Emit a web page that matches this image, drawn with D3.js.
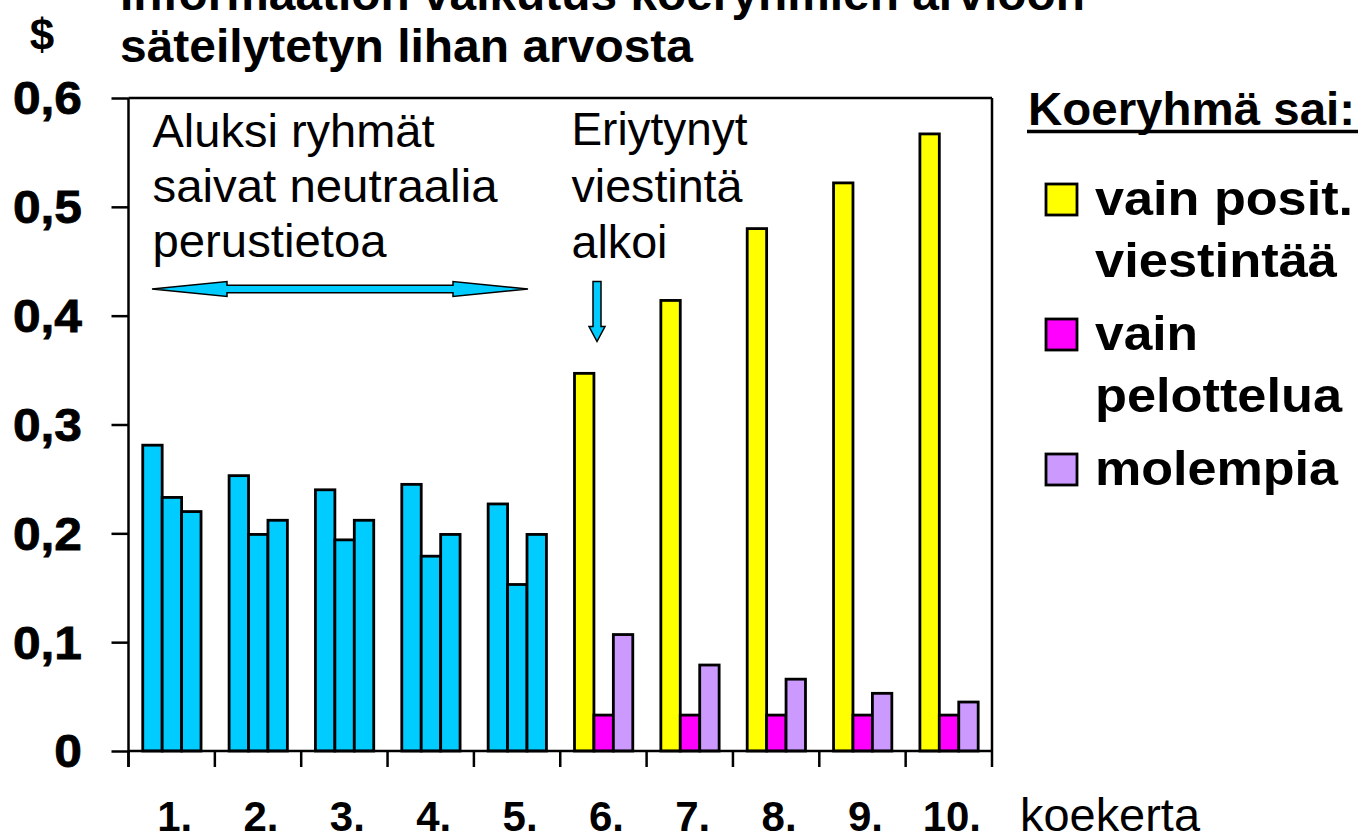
<!DOCTYPE html>
<html>
<head>
<meta charset="utf-8">
<script src="https://cdn.jsdelivr.net/npm/d3@7/dist/d3.min.js"></script>
<style>
  html, body { margin: 0; padding: 0; background: #ffffff; }
  svg { display: block; font-family: "Liberation Sans", Arial, sans-serif; }
</style>
</head>
<body>
<svg id="chart" width="1365" height="839"></svg>
<script>
// ---------- data ----------
const categories = ["1.", "2.", "3.", "4.", "5.", "6.", "7.", "8.", "9.", "10."];
const seriesNames = ["vain posit. viestintää", "vain pelottelua", "molempia"];
const positValues  = [0.281, 0.253, 0.240, 0.245, 0.227, 0.347, 0.414, 0.480, 0.522, 0.567];
const pelotValues  = [0.233, 0.199, 0.194, 0.179, 0.153, 0.033, 0.033, 0.033, 0.033, 0.033];
const molempValues = [0.220, 0.212, 0.212, 0.199, 0.199, 0.107, 0.079, 0.066, 0.053, 0.045];
const neutralRounds = 5; // first rounds: all groups got neutral info
const yTicks = [0, 0.1, 0.2, 0.3, 0.4, 0.5, 0.6];
const yTickLabels = ["0", "0,1", "0,2", "0,3", "0,4", "0,5", "0,6"];
const titleLines = ["Informaation vaikutus koeryhmien arvioon", "säteilytetyn lihan arvosta"];
const legendTitle = "Koeryhmä sai:";
const legendLines = [["vain posit.", "viestintää"], ["vain", "pelottelua"], ["molempia"]];
const note1 = ["Aluksi ryhmät", "saivat neutraalia", "perustietoa"];
const note2 = ["Eriytynyt", "viestintä", "alkoi"];

const seriesColors = ["#FFFF00", "#FF00FF", "#CC99FF"];
const neutralColor = "#00CCFF";

// ---------- layout ----------
const svg = d3.select("#chart");
const pL = 128.5, pR = 992, pT = 98, pB = 751;

const x = d3.scaleBand().domain(categories).range([pL, pR]).paddingInner(0).paddingOuter(0);
const bw = x.bandwidth();
const xs = d3.scaleBand().domain([0, 1, 2]).range([bw * 0.165, bw * 0.84]).padding(0);
const y = d3.scaleLinear().domain([0, 0.6]).range([pB, pT]);

const allSeries = [positValues, pelotValues, molempValues];

// ---------- bars ----------
const barData = [];
categories.forEach((c, i) => {
  allSeries.forEach((vals, s) => {
    barData.push({ cat: c, s: s, v: vals[i], color: i < neutralRounds ? neutralColor : seriesColors[s] });
  });
});

svg.append("g").selectAll("rect").data(barData).join("rect")
  .attr("x", d => x(d.cat) + xs(d.s))
  .attr("y", d => y(d.v))
  .attr("width", xs.bandwidth())
  .attr("height", d => y(0) - y(d.v))
  .attr("fill", d => d.color)
  .attr("stroke", "#000")
  .attr("stroke-width", 2.8);

// ---------- frame & axes ----------
const axisG = svg.append("g").attr("stroke", "#000").attr("stroke-width", 2.5).attr("fill", "none");
axisG.append("line").attr("x1", pL).attr("x2", pR).attr("y1", pT).attr("y2", pT);
axisG.append("line").attr("x1", pR).attr("x2", pR).attr("y1", pT).attr("y2", pB);

const yAxis = d3.axisLeft(y).tickValues(yTicks).tickSize(17).tickFormat("");
svg.append("g").attr("transform", `translate(${pL},0)`).call(yAxis)
  .call(g => g.select(".domain").remove())
  .call(g => g.selectAll("line").attr("stroke", "#000").attr("stroke-width", 2.5));
axisG.append("line").attr("x1", pL).attr("x2", pL).attr("y1", pT).attr("y2", pB + 16);

const xTickPos = categories.map(c => x(c)).concat([pR]);
svg.append("g").selectAll("line").data(xTickPos).join("line")
  .attr("x1", d => d).attr("x2", d => d)
  .attr("y1", pB).attr("y2", pB + 16)
  .attr("stroke", "#000").attr("stroke-width", 2.5);
axisG.append("line").attr("x1", pL).attr("x2", pR).attr("y1", pB).attr("y2", pB);

function txt(str, xPos, yPos, size, weight, width, anchor) {
  const t = svg.append("text")
    .attr("x", xPos).attr("y", yPos)
    .attr("font-size", size).attr("font-weight", weight)
    .attr("fill", "#000")
    .attr("text-anchor", anchor || "start")
    .text(str);
  if (width) t.attr("textLength", width).attr("lengthAdjust", "spacingAndGlyphs");
  return t;
}

// y tick labels
svg.append("g").selectAll("text").data(yTicks).join("text")
  .attr("x", 82)
  .attr("y", d => y(d) + 16.5)
  .attr("text-anchor", "end")
  .attr("font-size", 46)
  .attr("font-weight", "bold")
  .attr("stroke", "#000").attr("stroke-width", 0.8)
  .attr("transform", "translate(82,0) scale(1.08,1) translate(-82,0)")
  .text((d, i) => yTickLabels[i]);

// x tick labels
svg.append("g").selectAll("text").data(categories).join("text")
  .attr("x", d => x(d) + bw / 2 + 3)
  .attr("y", 831)
  .attr("text-anchor", "middle")
  .attr("font-size", 42)
  .attr("font-weight", "bold")
  .text(d => d);
txt("koekerta", 1020, 831, 47, "normal", 180);

// title & $
txt(titleLines[0], 120, 10, 46, "bold", 965);
txt(titleLines[1], 120, 62, 46, "bold", 573);
txt("$", 42, 50, 44, "bold", null, "middle");

// annotations
const n1w = [282, 345, 234];
note1.forEach((s, i) => txt(s, 152.5, 146.5 + i * 55, 47, "normal", n1w[i]));
const n2w = [176, 171, 96];
note2.forEach((s, i) => txt(s, 571.5, 145 + i * 56.5, 47, "normal", n2w[i]));

// arrows
const arrowFill = "#00CCFF";
const ay = 289;
svg.append("path")
  .attr("d", `M152,${ay} L227,${ay - 7.5} L227,${ay - 3.8} L453,${ay - 3.8} L453,${ay - 7.5} L528,${ay} L453,${ay + 7.5} L453,${ay + 3.8} L227,${ay + 3.8} L227,${ay + 7.5} Z`)
  .attr("fill", arrowFill).attr("stroke", "#000").attr("stroke-width", 1.5).attr("stroke-linejoin", "miter");
const ax = 597;
svg.append("path")
  .attr("d", `M${ax - 4},281.5 L${ax + 4},281.5 L${ax + 4},326.5 L${ax + 8},326.5 L${ax},341.5 L${ax - 8},326.5 L${ax - 4},326.5 Z`)
  .attr("fill", arrowFill).attr("stroke", "#000").attr("stroke-width", 1.5);

// ---------- legend ----------
txt(legendTitle, 1028, 125, 46, "bold", 327);
svg.append("line").attr("x1", 1027).attr("x2", 1358).attr("y1", 131.5).attr("y2", 131.5)
  .attr("stroke", "#000").attr("stroke-width", 3.5);

const legendBase = [215, 350, 485];
const legendW = [[258, 242], [103, 247], [243]];
seriesNames.forEach((name, i) => {
  svg.append("rect")
    .attr("x", 1046).attr("y", legendBase[i] - 31)
    .attr("width", 31).attr("height", 31)
    .attr("fill", seriesColors[i]).attr("stroke", "#000").attr("stroke-width", 2.8);
  legendLines[i].forEach((s, j) => txt(s, 1095, legendBase[i] + j * 62, 48, "bold", legendW[i][j]));
});
</script>
</body>
</html>
